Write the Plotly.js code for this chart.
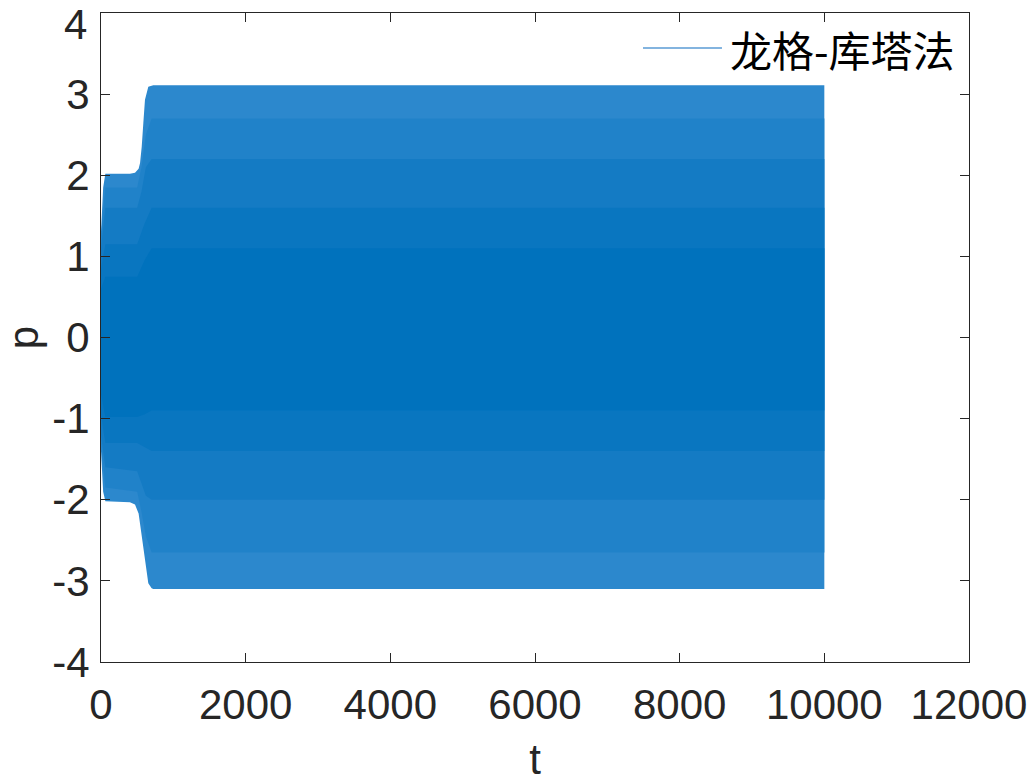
<!DOCTYPE html>
<html>
<head>
<meta charset="utf-8">
<script src="https://cdn.plot.ly/plotly-3.0.1.min.js"></script>
<style>html,body{margin:0;padding:0;background:#fff;}#chart{width:1032px;height:783px;}</style>
</head>
<body>
<div id="chart"></div>
<script>
// Envelope of the oscillating signal p(t)
const envT     = [0,    30,   60,   400,   470,   520,   540,   563,   585,   608,   654,   700,   723,   10000];
const envUpper = [1.3,  1.85, 2.02, 2.02,  2.03,  2.08,  2.15,  2.35,  2.64,  2.93,  3.09,  3.11,  3.11,  3.11];
const envLower = [-1.4, -1.9, -2.02,-2.03, -2.06, -2.17, -2.33, -2.47, -2.62, -2.74, -3.03, -3.09, -3.10, -3.10];
// Progressively denser inner regions of the band (shading)
const band2T     = [0,    60,   500,   560,   620,   700,   10000];
const band2Upper = [1.25, 1.85, 1.85,  2.1,   2.5,   2.7,   2.7];
const band2Lower = [-1.3, -1.85,-1.9,  -2.15, -2.45, -2.65, -2.65];
const band3T     = [0,    60,   500,   560,   620,   700,   10000];
const band3Upper = [1.1,  1.6,  1.6,   1.8,   2.1,   2.2,   2.2];
const band3Lower = [-1.2, -1.6, -1.65, -1.8,  -1.95, -2.0,  -2.0];
const band4T     = [0,    60,   500,   600,   700,   10000];
const band4Upper = [0.85, 1.15, 1.15,  1.4,   1.6,   1.6];
const band4Lower = [-0.95,-1.3, -1.3,  -1.35, -1.4,  -1.4];
const coreT      = [0,    60,   500,   600,   700,   10000];
const coreUpper  = [0.6,  0.75, 0.75,  0.95,  1.1,   1.1];
const coreLower  = [-0.7, -0.98,-0.98, -0.95, -0.9,  -0.9];

const xTickVals = [0, 2000, 4000, 6000, 8000, 10000, 12000];
const xTickText = ['0', '2000', '4000', '6000', '8000', '10000', '12000'];
const yTickVals = [-4, -3, -2, -1, 0, 1, 2, 3, 4];
const yTickText = ['-4', '-3', '-2', '-1', '0', '1', '2', '3', ''];
const yTopLabel = '4';   // drawn as annotation so it stays inside the page
const seriesName = '龙格-库塔法';

function band(t, up, lo, color) {
  return {
    x: t.concat(t.slice().reverse()),
    y: up.concat(lo.slice().reverse()),
    type: 'scatter', mode: 'lines', fill: 'toself',
    fillcolor: color, line: {width: 0, color: color},
    hoverinfo: 'skip', showlegend: false
  };
}

const traces = [
  band(envT, envUpper, envLower, 'rgb(44,136,205)'),
  band(band2T, band2Upper, band2Lower, 'rgb(32,130,201)'),
  band(band3T, band3Upper, band3Lower, 'rgb(20,123,196)'),
  band(band4T, band4Upper, band4Lower, 'rgb(9,118,192)'),
  band(coreT, coreUpper, coreLower, 'rgb(0,114,189)')
];

const tickFont = {family: 'Liberation Sans, Arial, sans-serif', size: 42, color: '#262626'};
const axisCommon = {
  showgrid: false, zeroline: false, showline: true, linecolor: '#262626', linewidth: 1,
  mirror: 'ticks', ticks: 'inside', ticklen: 9, tickwidth: 1, tickcolor: '#262626',
  tickfont: tickFont, tickmode: 'array', ticklabeloverflow: 'allow'
};

const layout = {
  width: 1032, height: 783,
  margin: {l: 101, r: 63, t: 13, b: 121},
  paper_bgcolor: '#fff', plot_bgcolor: '#fff',
  showlegend: false,
  xaxis: Object.assign({}, axisCommon, {
    range: [0, 12000], tickvals: xTickVals, ticktext: xTickText,
    ticklabelstandoff: 6,
    title: {text: 't', font: tickFont, standoff: 22}
  }),
  yaxis: Object.assign({}, axisCommon, {
    range: [-4, 4], tickvals: yTickVals, ticktext: yTickText,
    ticklabelstandoff: 2,
    title: {text: 'p', font: tickFont, standoff: 18}
  }),
  shapes: [{
    type: 'line', xref: 'paper', yref: 'paper',
    x0: 0.6244, x1: 0.7154, y0: 0.946, y1: 0.946,
    line: {color: 'rgb(90,155,212)', width: 1.5}
  }],
  annotations: [{
    xref: 'paper', yref: 'paper', x: 0, y: 1,
    xanchor: 'right', yanchor: 'top', xshift: -13, yshift: 13,
    showarrow: false, borderpad: 0, text: yTopLabel, font: tickFont
  }, {
    xref: 'paper', yref: 'paper', x: 0.722, y: 0.946,
    xanchor: 'left', yanchor: 'middle', showarrow: false,
    text: seriesName,
    font: {family: 'Noto Sans CJK SC, sans-serif', size: 42, color: '#000'}
  }]
};

Plotly.newPlot('chart', traces, layout, {displayModeBar: false, staticPlot: true});
</script>
</body>
</html>
